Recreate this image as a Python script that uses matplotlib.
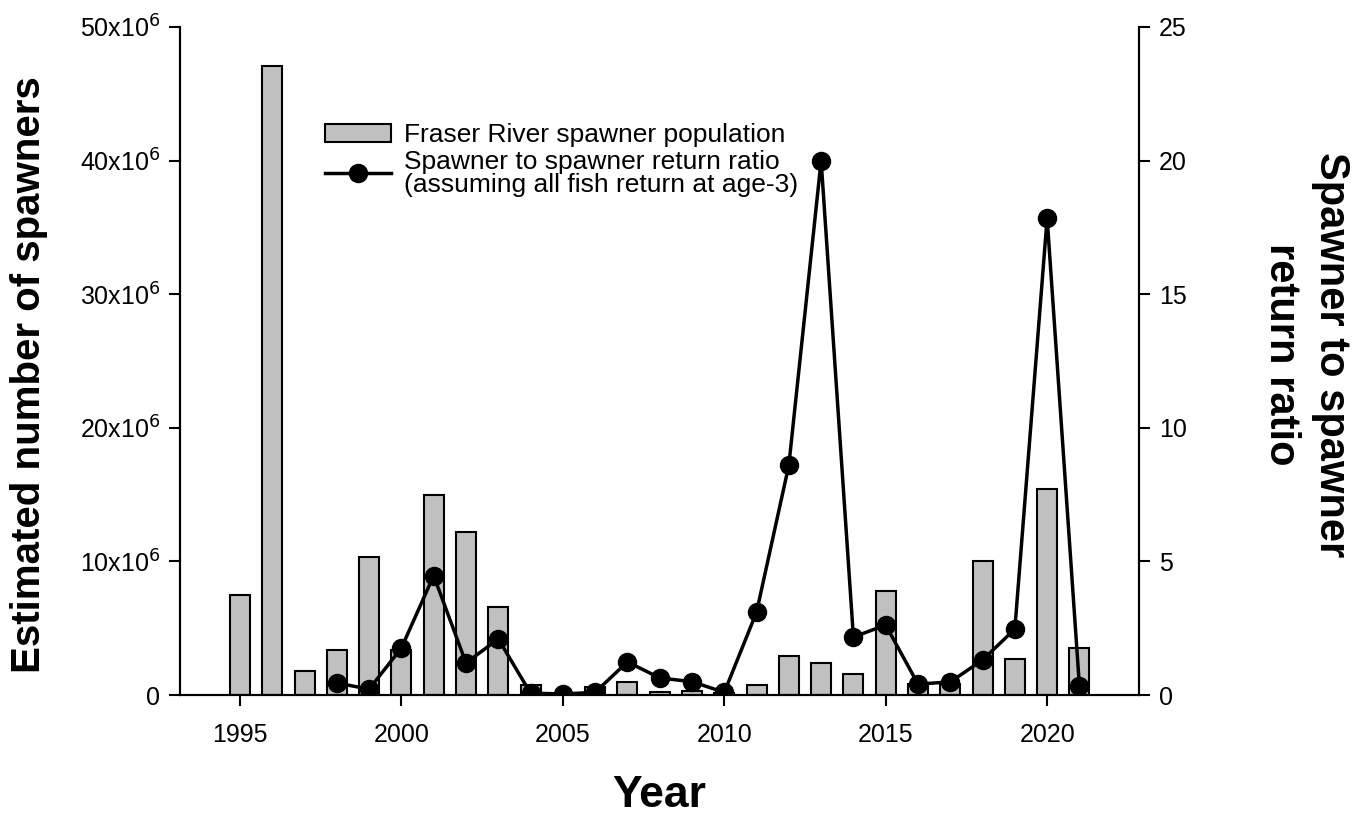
import numpy as np
import matplotlib
matplotlib.use('Agg')
import matplotlib.pyplot as plt
from matplotlib.ticker import FuncFormatter

plt.rcParams['font.family'] = ['Liberation Sans', 'DejaVu Sans']

# Fraser River spawners (millions) par annee
annees = np.arange(1995, 2022)
spawners_M = [7.5, 47.1, 1.8, 3.4, 10.3, 3.4, 15.0, 12.2, 6.6, 0.75,
              0.1, 0.6, 1.0, 0.25, 0.3, 0.15, 0.75, 2.9, 2.4, 1.6,
              7.8, 0.8, 0.8, 10.0, 2.7, 15.4, 3.5]

# ratio de retour (a partir de 1998)
annees_ratio = np.arange(1998, 2022)
ratio = [0.45, 0.22, 1.76, 4.47, 1.2, 2.1, 0.07, 0.04, 0.1, 1.24,
         0.64, 0.5, 0.1, 3.1, 8.6, 20.0, 2.17, 2.62, 0.41, 0.49,
         1.31, 2.47, 17.85, 0.34]

fig = plt.figure(figsize=(13.63, 8.13), dpi=100)
ax = fig.add_axes([0.132, 0.1451, 0.704, 0.8217])
ax2 = ax.twinx()

barres = ax.bar(annees, np.array(spawners_M) * 1e6, width=0.62,
                color='#c0c0c0', edgecolor='black', linewidth=1.5,
                label='Fraser River spawner population', zorder=2)
ligne, = ax2.plot(annees_ratio, ratio, color='black', linewidth=2.5,
                  marker='o', markersize=13,
                  label='Spawner to spawner return ratio\n(assuming all fish return at age-3)')

ax.set_xlim(1993.14, 2022.86)
ax.set_ylim(0, 50e6)
ax2.set_ylim(0, 25)

ax.set_xticks([1995, 2000, 2005, 2010, 2015, 2020])
ax.set_yticks(np.arange(0, 51e6, 10e6))
ax2.set_yticks(np.arange(0, 26, 5))

def fmt_millions(v, pos):
    if v == 0:
        return '0'
    return r'%dx10$^{6}$' % round(v / 1e6)

ax.yaxis.set_major_formatter(FuncFormatter(fmt_millions))

for a in (ax, ax2):
    a.spines['top'].set_visible(False)
    for s in a.spines.values():
        s.set_linewidth(1.5)
    a.tick_params(direction='out', length=8, width=1.5, labelsize=18)
ax.tick_params(axis='x', pad=12)
ax.tick_params(axis='y', pad=6)
ax2.tick_params(axis='y', pad=6)

ax.set_xlabel('Year', fontsize=32, fontweight='bold', labelpad=20)
ax.set_ylabel('Estimated number of spawners', fontsize=29, fontweight='bold',
              labelpad=23, y=0.48)
ax2.set_ylabel('Spawner to spawner\nreturn ratio', fontsize=30, fontweight='bold',
               rotation=270, labelpad=118, y=0.51, linespacing=1.3)

leg = ax.legend([barres, ligne],
                ['Fraser River spawner population',
                 'Spawner to spawner return ratio\n(assuming all fish return at age-3)'],
                loc='upper left', bbox_to_anchor=(0.14, 0.872), frameon=False,
                fontsize=19, handlelength=2.5, handletextpad=0.5, labelspacing=0.1,
                borderaxespad=0)
for t in leg.get_texts():
    t.set_linespacing(0.95)

fig.savefig('out.png', dpi=100)
